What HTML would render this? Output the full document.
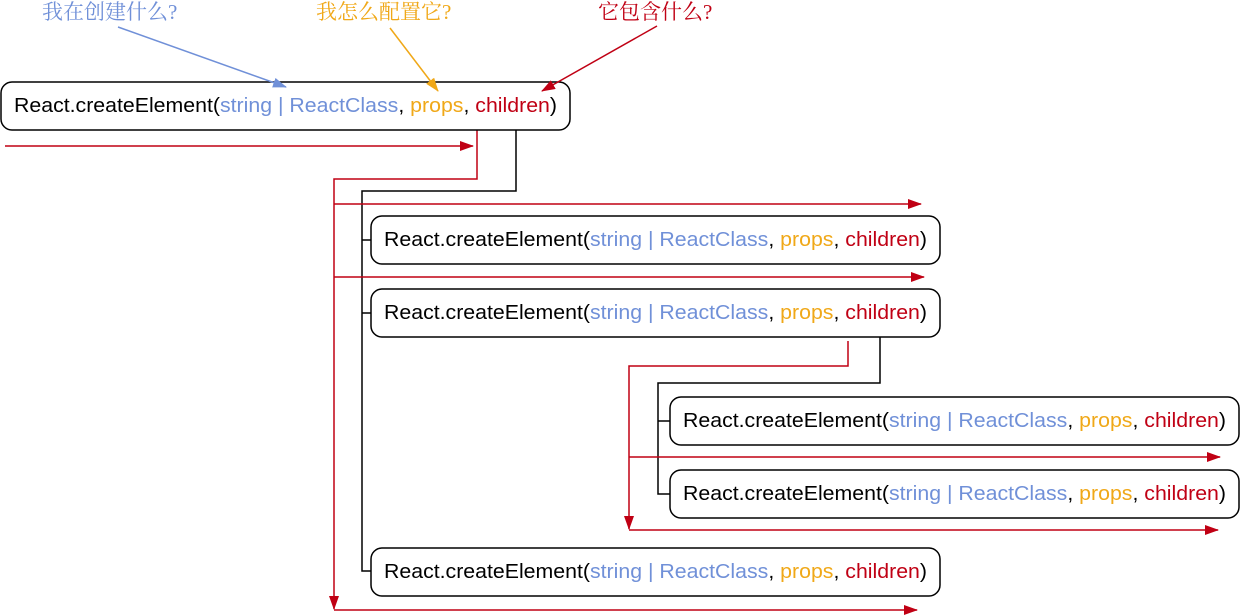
<!DOCTYPE html>
<html><head><meta charset="utf-8"><style>
html,body{margin:0;padding:0;background:#fff;}
svg{display:block;}
.t{font-family:"Liberation Sans",sans-serif;font-size:20px;}
.cn{font-family:"Liberation Serif","Noto Serif CJK SC",serif;font-size:21px;}
</style></head><body>
<svg width="1240" height="616" viewBox="0 0 1240 616" xmlns="http://www.w3.org/2000/svg">
<defs>
<marker id="ar" markerWidth="14" markerHeight="10" refX="13" refY="5" orient="auto" markerUnits="userSpaceOnUse"><path d="M0,0 L14,5 L0,10 z" fill="#c00014"/></marker>
<marker id="ab" markerWidth="14" markerHeight="10" refX="13" refY="5" orient="auto" markerUnits="userSpaceOnUse"><path d="M0,0 L14,5 L0,10 z" fill="#7090d8"/></marker>
<marker id="ao" markerWidth="14" markerHeight="10" refX="13" refY="5" orient="auto" markerUnits="userSpaceOnUse"><path d="M0,0 L14,5 L0,10 z" fill="#f0a818"/></marker>
</defs>

<text class="cn" x="42" y="19" fill="#7090d8">我在创建什么?</text>
<text class="cn" x="316" y="19" fill="#f0a818">我怎么配置它?</text>
<text class="cn" x="598" y="19" fill="#c00014">它包含什么?</text>

<g fill="none" stroke="#000" stroke-width="1.5">
<polyline points="516,130 516,191 362,191 362,571 371,571"/>
<line x1="362" y1="240" x2="371" y2="240"/>
<line x1="362" y1="313" x2="371" y2="313"/>
<polyline points="880,337 880,383 658,383 658,494 670,494"/>
<line x1="658" y1="421" x2="670" y2="421"/>
</g>

<g fill="none" stroke="#c00014" stroke-width="1.5">
<line x1="5" y1="146" x2="473" y2="146" marker-end="url(#ar)"/>
<polyline points="477,130 477,179 334,179 334,609" marker-end="url(#ar)"/>
<line x1="334" y1="204" x2="921" y2="204" marker-end="url(#ar)"/>
<line x1="334" y1="277" x2="924" y2="277" marker-end="url(#ar)"/>
<line x1="334" y1="610" x2="917" y2="610" marker-end="url(#ar)"/>
<polyline points="848,341 848,366 629,366 629,529" marker-end="url(#ar)"/>
<line x1="629" y1="457" x2="1220" y2="457" marker-end="url(#ar)"/>
<line x1="629" y1="530" x2="1218" y2="530" marker-end="url(#ar)"/>
</g>

<g fill="#fff" stroke="#000" stroke-width="1.5">
<rect x="1" y="82" width="569" height="48" rx="11"/>
<rect x="371" y="216" width="569" height="48" rx="11"/>
<rect x="371" y="289" width="569" height="48" rx="11"/>
<rect x="670" y="397" width="569" height="48" rx="11"/>
<rect x="670" y="470" width="569" height="48" rx="11"/>
<rect x="371" y="548" width="569" height="48" rx="11"/>
</g>

<line x1="118" y1="27" x2="286" y2="87" stroke="#7090d8" stroke-width="1.5" marker-end="url(#ab)"/>
<line x1="390" y1="28" x2="438" y2="91" stroke="#f0a818" stroke-width="1.5" marker-end="url(#ao)"/>
<line x1="657" y1="26" x2="542" y2="91" stroke="#c00014" stroke-width="1.5" marker-end="url(#ar)"/>

<g class="t">
<text x="14" y="112" textLength="543" lengthAdjust="spacingAndGlyphs"><tspan fill="#000">React.createElement(</tspan><tspan fill="#7090d8">string | ReactClass</tspan><tspan fill="#000">, </tspan><tspan fill="#f0a818">props</tspan><tspan fill="#000">, </tspan><tspan fill="#c00014">children</tspan><tspan fill="#000">)</tspan></text>
<text x="384" y="246" textLength="543" lengthAdjust="spacingAndGlyphs"><tspan fill="#000">React.createElement(</tspan><tspan fill="#7090d8">string | ReactClass</tspan><tspan fill="#000">, </tspan><tspan fill="#f0a818">props</tspan><tspan fill="#000">, </tspan><tspan fill="#c00014">children</tspan><tspan fill="#000">)</tspan></text>
<text x="384" y="319" textLength="543" lengthAdjust="spacingAndGlyphs"><tspan fill="#000">React.createElement(</tspan><tspan fill="#7090d8">string | ReactClass</tspan><tspan fill="#000">, </tspan><tspan fill="#f0a818">props</tspan><tspan fill="#000">, </tspan><tspan fill="#c00014">children</tspan><tspan fill="#000">)</tspan></text>
<text x="683" y="427" textLength="543" lengthAdjust="spacingAndGlyphs"><tspan fill="#000">React.createElement(</tspan><tspan fill="#7090d8">string | ReactClass</tspan><tspan fill="#000">, </tspan><tspan fill="#f0a818">props</tspan><tspan fill="#000">, </tspan><tspan fill="#c00014">children</tspan><tspan fill="#000">)</tspan></text>
<text x="683" y="500" textLength="543" lengthAdjust="spacingAndGlyphs"><tspan fill="#000">React.createElement(</tspan><tspan fill="#7090d8">string | ReactClass</tspan><tspan fill="#000">, </tspan><tspan fill="#f0a818">props</tspan><tspan fill="#000">, </tspan><tspan fill="#c00014">children</tspan><tspan fill="#000">)</tspan></text>
<text x="384" y="578" textLength="543" lengthAdjust="spacingAndGlyphs"><tspan fill="#000">React.createElement(</tspan><tspan fill="#7090d8">string | ReactClass</tspan><tspan fill="#000">, </tspan><tspan fill="#f0a818">props</tspan><tspan fill="#000">, </tspan><tspan fill="#c00014">children</tspan><tspan fill="#000">)</tspan></text>
</g>
</svg>
</body></html>
